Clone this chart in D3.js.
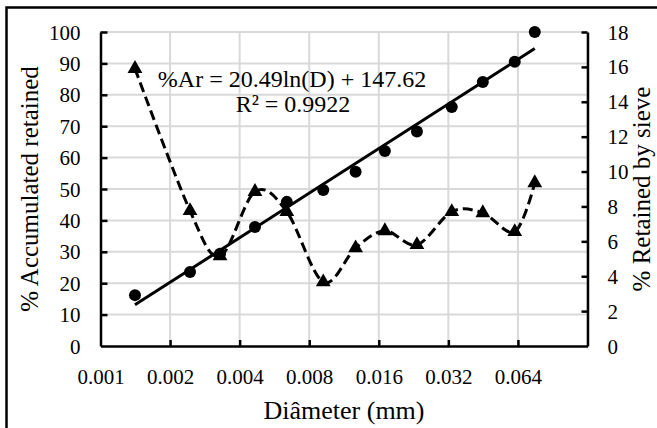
<!DOCTYPE html>
<html>
<head>
<meta charset="utf-8">
<script src="https://cdn.jsdelivr.net/npm/d3@7"></script>
<style>
  html, body { margin: 0; padding: 0; background: #fff; }
  svg { display: block; }
</style>
</head>
<body>
<svg id="chart" width="657" height="428"></svg>
<script>
// Particle diameter (mm)
const diameters = [0.00141, 0.00244, 0.00329, 0.00466, 0.0064, 0.0092, 0.0127, 0.017, 0.0234, 0.0331, 0.0451, 0.062, 0.0757];
// % accumulated retained (left axis)
const accumulated = [16.2, 23.6, 29.4, 37.9, 45.9, 49.7, 55.5, 62.1, 68.3, 76.1, 84.1, 90.5, 100];
// % retained by each sieve (right axis)
const retained = [15.9, 7.75, 5.16, 8.85, 7.7, 3.67, 5.62, 6.6, 5.8, 7.7, 7.63, 6.55, 9.35];
// Logarithmic fit: %Ar = a·ln(D) + b
const fitCoef = [20.49, 147.62];
const fitLabels = ["%Ar = 20.49ln(D) + 147.62", "R\u00B2 = 0.9922"];

const xTicks = [0.001, 0.002, 0.004, 0.008, 0.016, 0.032, 0.064];
const xGrid = [0.002, 0.004, 0.008, 0.016, 0.032, 0.064, 0.128];
const yLeftTicks = [0, 10, 20, 30, 40, 50, 60, 70, 80, 90, 100];
const yRightTicks = [0, 2, 4, 6, 8, 10, 12, 14, 16, 18];

const FONT = "'Liberation Serif', 'Times New Roman', 'DejaVu Serif', serif";

const svg = d3.select("#chart");
const L = 100.5, R = 587.5, T = 32, B = 346;

const x = d3.scaleLog().base(2).domain([0.001, 0.128]).range([L, R]);
const yL = d3.scaleLinear().domain([0, 100]).range([B, T]);
const yR = d3.scaleLinear().domain([0, 18]).range([B, T]);

// outer frame
svg.append("path")
  .attr("d", "M6.5,440 L6.5,7.5 L670,7.5")
  .attr("fill", "none").attr("stroke", "#000").attr("stroke-width", 2.5);

// grid
const grid = svg.append("g").attr("stroke", "#d9d9d9").attr("stroke-width", 2);
grid.selectAll("line.h").data(yLeftTicks.filter(d => d > 0)).join("line")
  .attr("x1", L).attr("x2", R).attr("y1", d => yL(d)).attr("y2", d => yL(d));
grid.selectAll("line.v").data(xGrid).join("line")
  .attr("x1", d => x(d)).attr("x2", d => x(d)).attr("y1", T).attr("y2", B);

// axes
function styleAxis(g) {
  g.attr("font-family", FONT);
  g.select(".domain").attr("stroke", "#000").attr("stroke-width", 2.5);
  g.selectAll(".tick line").attr("stroke", "#000").attr("stroke-width", 2.5);
  g.selectAll(".tick text").attr("font-size", 21).attr("fill", "#000").attr("font-family", FONT);
}

const gx = svg.append("g").attr("transform", `translate(0,${B})`)
  .call(d3.axisBottom(x).tickValues(xTicks).tickFormat(d3.format("")).tickSize(-6).tickSizeOuter(0).tickPadding(0));
styleAxis(gx);
gx.selectAll(".tick text").attr("y", 38).attr("dy", 0);
gx.selectAll(".tick").filter(d => d === 0.001).select("line").remove();

const gl = svg.append("g").attr("transform", `translate(${L},0)`)
  .call(d3.axisLeft(yL).tickValues(yLeftTicks).tickSize(-7).tickSizeOuter(0).tickPadding(20));
styleAxis(gl);
gl.selectAll(".tick text").attr("dy", 7);
gl.selectAll(".tick").filter(d => d === 0).select("line").remove();

const gr = svg.append("g").attr("transform", `translate(${R},0)`)
  .call(d3.axisRight(yR).tickValues(yRightTicks).tickSize(-6).tickSizeOuter(0).tickPadding(20));
styleAxis(gr);
gr.selectAll(".tick text").attr("dy", 7);
gr.selectAll(".tick").filter(d => d === 0).select("line").remove();

// retained by sieve: smoothed dashed line with triangles
const lineR = d3.line().x((d, i) => x(diameters[i])).y(d => yR(d)).curve(d3.curveCardinal.tension(0));
svg.append("path").datum(retained)
  .attr("d", lineR).attr("fill", "none").attr("stroke", "#000")
  .attr("stroke-width", 3).attr("stroke-dasharray", "10,5");
svg.append("g").selectAll("path").data(retained).join("path")
  .attr("transform", (d, i) => `translate(${x(diameters[i])},${yR(d)})`)
  .attr("d", d3.symbol(d3.symbolTriangle, 95)).attr("fill", "#000");

// accumulated retained: circles
svg.append("g").selectAll("circle").data(accumulated).join("circle")
  .attr("cx", (d, i) => x(diameters[i])).attr("cy", d => yL(d)).attr("r", 6).attr("fill", "#000");

// logarithmic trendline
const fitEnds = [diameters[0], diameters[diameters.length - 1]];
svg.append("line")
  .attr("x1", x(fitEnds[0])).attr("y1", yL(fitCoef[0] * Math.log(fitEnds[0]) + fitCoef[1]))
  .attr("x2", x(fitEnds[1])).attr("y2", yL(fitCoef[0] * Math.log(fitEnds[1]) + fitCoef[1]))
  .attr("stroke", "#000").attr("stroke-width", 3);

const labels = svg.append("g").attr("font-family", FONT).attr("fill", "#000");

// trendline label
labels.append("text").attr("x", 292).attr("y", 87).attr("text-anchor", "middle")
  .attr("font-size", 24).text(fitLabels[0]);
labels.append("text").attr("x", 293).attr("y", 112).attr("text-anchor", "middle")
  .attr("font-size", 24).text(fitLabels[1]);

// axis titles
labels.append("text").attr("x", (L + R) / 2).attr("y", 419).attr("text-anchor", "middle")
  .attr("font-size", 26).text("Diâmeter (mm)");
labels.append("text").attr("transform", "translate(38,189) rotate(-90)").attr("text-anchor", "middle")
  .attr("font-size", 25).text("% Accumulated retained");
labels.append("text").attr("transform", "translate(650,189) rotate(-90)").attr("text-anchor", "middle")
  .attr("font-size", 25).text("% Retained by sieve");
</script>
</body>
</html>
